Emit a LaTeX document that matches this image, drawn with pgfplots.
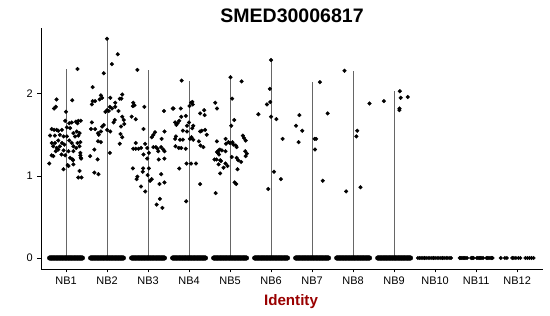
\documentclass[border=0pt]{standalone}
\usepackage{fontspec}
\setmainfont{Liberation Sans}
\usepackage{pgfplots}
\usepackage{pgfplotstable}
\pgfplotsset{compat=1.18}
\definecolor{labred}{RGB}{153,0,0}

% jitter offsets of the zero-valued cells (groups NB1-NB9)
\pgfplotstableread{
dx y
-0.40 0
-0.38 0
-0.36 0
-0.34 0
-0.32 0
-0.30 0
-0.28 0
-0.26 0
-0.24 0
-0.22 0
-0.20 0
-0.18 0
-0.16 0
-0.14 0
-0.12 0
-0.10 0
-0.08 0
-0.06 0
-0.04 0
-0.02 0
0.00 0
0.02 0
0.04 0
0.06 0
0.08 0
0.10 0
0.12 0
0.14 0
0.16 0
0.18 0
0.20 0
0.22 0
0.24 0
0.26 0
0.28 0
0.30 0
0.32 0
0.34 0
0.36 0
0.38 0
0.40 0
}\zerooff

\pgfplotstableread{
x y
9.58 0
9.62 0
9.66 0
9.70 0
9.74 0
9.78 0
9.83 0
9.87 0
9.92 0
9.96 0
10.00 0
10.05 0
10.09 0
10.14 0
10.18 0
10.22 0
10.27 0
10.31 0
10.36 0
10.39 0
10.60 0
10.63 0
10.66 0
10.69 0
10.72 0
10.75 0
10.78 0
10.88 0
10.91 0
10.94 0
11.02 0
11.05 0
11.08 0
11.11 0
11.14 0
11.17 0
11.25 0
11.28 0
11.31 0
11.34 0
11.38 0
11.40 0
11.60 0
11.70 0
11.75 0
11.88 0
11.92 0
11.97 0
12.03 0
12.08 0
12.20 0
12.25 0
12.30 0
12.35 0
12.40 0
}\zerorest

\begin{document}
\begin{tikzpicture}
\begin{axis}[
  at={(0,0)}, anchor=south west,
  scale only axis, width=502bp, height=241bp,
  xmin=0.39, xmax=12.63, ymin=-0.134, ymax=2.80,
  axis x line=bottom, axis y line=left,
  axis line style={black, line width=0.8bp, -},
  xtick={1,2,3,4,5,6,7,8,9,10,11,12},
  xticklabels={NB1,NB2,NB3,NB4,NB5,NB6,NB7,NB8,NB9,NB10,NB11,NB12},
  ytick={0,1,2},
  tick align=outside, major tick length=3.5bp,
  tick style={black, line width=0.7bp},
  tick label style={font=\fontsize{11}{11}\selectfont, text=black},
  xticklabel style={yshift=-1.3bp},
  yticklabel style={xshift=-1.2bp},
  /pgf/number format/assume math mode=true,
  clip=false,
]
% violin outlines (collapsed to lines)
\addplot[ycomb, draw=black!60, line width=0.7bp, mark=none] coordinates {
(1,2.30)(2,2.67)(3,2.29)(4,2.16)(5,2.20)(6,2.41)(7,2.14)(8,2.28)(9,2.03)};
% zero cells
\pgfplotsinvokeforeach{1,...,9}{
\addplot[only marks, mark=*, mark size=2.3bp, black] table[x expr=\thisrow{dx}+#1, y=y] {\zerooff};
}
\addplot[only marks, mark=*, mark size=1.75bp, black] table[x=x, y=y] {\zerorest};
% expressing cells
\addplot[only marks, mark=*, mark size=1.85bp, black] coordinates {
(1.28,2.30)(0.77,1.93)(0.75,1.84)(0.71,1.82)(1.15,1.92)(1.00,1.78)
(0.98,1.67)(1.08,1.64)(1.14,1.65)(1.24,1.66)(1.30,1.67)(1.36,1.67)(1.28,1.64)
(0.65,1.57)(0.71,1.56)(0.77,1.56)(0.81,1.55)(0.90,1.56)(1.02,1.59)(1.10,1.58)
(1.18,1.52)(1.26,1.54)(1.33,1.52)(1.30,1.49)(1.22,1.48)(0.61,1.49)(0.73,1.49)(0.85,1.50)(0.94,1.48)(1.02,1.48)
(0.65,1.40)(0.73,1.40)(0.81,1.43)(0.90,1.40)(0.96,1.38)(1.08,1.43)(1.14,1.40)(1.28,1.40)(1.35,1.41)
(0.69,1.36)(0.77,1.34)(0.85,1.36)(1.18,1.36)(1.25,1.34)(1.33,1.36)
(0.75,1.30)(0.81,1.32)(0.94,1.31)(1.06,1.30)(1.18,1.30)(1.35,1.28)
(0.89,1.26)(0.98,1.25)(0.65,1.25)(0.69,1.24)(1.10,1.22)(1.17,1.19)(1.35,1.25)(1.36,1.22)
(0.59,1.15)(0.94,1.08)(1.06,1.12)(1.18,1.14)(1.33,1.06)(1.30,0.98)(1.38,0.98)
(1.04,1.13)(1.16,1.20)(1.37,1.21)
(2.00,2.67)(2.26,2.48)(2.12,2.36)(1.92,2.25)(1.65,2.08)
(1.85,1.98)(1.82,1.93)(1.88,1.95)(1.65,1.91)(1.71,1.91)(1.63,1.87)
(2.37,1.99)(2.35,1.94)(2.31,1.94)(2.08,1.95)(2.20,1.89)(2.20,1.84)(2.12,1.82)(2.07,1.84)
(2.00,1.80)(2.04,1.79)(1.96,1.78)(2.28,1.79)(2.37,1.72)(2.19,1.68)(2.16,1.65)(1.63,1.65)
(1.61,1.57)(1.71,1.57)(1.92,1.62)(1.88,1.60)(2.00,1.56)(2.34,1.60)(2.33,1.51)(2.37,1.47)
(2.08,1.54)(1.78,1.52)(1.85,1.54)(1.69,1.32)(1.85,1.41)(1.77,1.20)(2.07,1.28)(1.69,1.04)(1.79,1.02)
(2.41,1.68)(2.42,1.63)(2.31,1.39)(1.80,1.50)(1.59,1.24)(1.78,1.42)
(2.74,2.29)(2.64,1.89)(2.67,1.86)(2.63,1.85)(2.91,1.84)(2.60,1.72)(2.70,1.69)(3.39,1.79)
(2.89,1.57)(3.17,1.53)(3.13,1.50)(3.09,1.47)(3.40,1.54)(3.33,1.45)(2.70,1.40)(2.93,1.39)
(2.64,1.33)(2.70,1.33)(2.77,1.33)(2.83,1.34)(2.98,1.34)(3.13,1.35)(3.19,1.35)(3.23,1.33)(3.32,1.35)(3.37,1.32)(3.40,1.30)
(3.02,1.28)(3.25,1.30)(2.89,1.26)(2.98,1.21)(3.40,1.21)(3.26,1.20)
(2.63,1.09)(2.88,1.09)(3.02,1.09)(2.87,1.05)(2.74,0.99)(2.72,0.96)(2.99,1.01)(3.09,0.96)(3.05,0.94)(3.32,1.02)
(3.28,0.90)(3.40,0.92)(2.83,0.87)(2.93,0.81)(3.29,0.72)(3.21,0.65)(3.35,0.61)
(3.82,2.16)(4.05,1.89)(4.09,1.87)(4.01,1.85)(3.80,1.82)(3.62,1.82)(4.27,1.76)(4.37,1.80)
(3.66,1.65)(3.72,1.64)(3.76,1.67)(3.69,1.62)(3.81,1.72)(3.92,1.73)(4.00,1.65)(4.10,1.61)(4.08,1.58)
(3.95,1.54)(3.85,1.55)(4.31,1.55)(4.39,1.56)(4.27,1.54)
(3.66,1.45)(3.78,1.44)(3.85,1.44)(4.06,1.47)(4.02,1.45)(4.10,1.44)(4.28,1.37)(3.67,1.36)(3.81,1.34)(3.92,1.33)(4.24,1.42)
(3.76,1.09)(3.94,1.15)(4.05,1.15)(4.17,1.15)(4.27,0.90)(3.93,0.69)
(3.60,1.82)(4.08,1.90)(4.38,1.74)(4.43,1.50)(4.35,1.35)(3.68,1.48)(3.75,1.34)(3.95,1.61)
(5.01,2.20)(5.28,2.15)(5.05,1.94)(4.64,1.89)(4.68,1.82)(5.10,1.68)(5.03,1.61)
(5.31,1.49)(5.34,1.46)(5.38,1.43)(4.68,1.42)(4.89,1.45)(4.96,1.41)(5.00,1.40)(5.06,1.41)(5.14,1.37)(5.16,1.35)
(4.72,1.31)(4.75,1.32)(4.68,1.29)(4.80,1.31)(4.89,1.30)(5.37,1.30)(5.41,1.27)(5.38,1.24)
(4.62,1.20)(4.76,1.19)(4.78,1.18)(5.04,1.23)(5.16,1.22)(5.20,1.19)(4.89,1.15)(4.94,1.12)(4.84,1.10)(5.27,1.17)(5.18,1.08)
(4.76,1.03)(5.11,0.92)(5.15,0.90)(4.65,0.79)
(4.70,1.28)(4.73,1.26)(4.67,1.20)(4.72,1.14)(4.90,1.39)(5.08,1.38)
(6.00,2.41)(5.97,2.06)(5.90,1.87)(5.98,1.90)(5.69,1.75)(6.00,1.72)(6.13,1.69)(6.28,1.45)(6.07,1.05)(6.24,0.96)(5.93,0.84)
(6.69,1.74)(6.61,1.61)(6.76,1.55)(6.67,1.41)(7.19,2.14)(7.38,1.76)(7.06,1.45)(7.10,1.45)(7.07,1.32)(7.26,0.94)
(7.79,2.28)(8.10,1.55)(8.08,1.48)(7.83,0.81)(8.18,0.86)(8.40,1.88)
(8.75,1.91)(9.14,2.03)(9.16,1.95)(9.33,1.96)(9.13,1.82)(9.13,1.80)
};
\end{axis}
\node[anchor=base, font=\bfseries\fontsize{19.6}{20}\selectfont] at (251bp,246.7bp) {SMED30006817};
\node[anchor=base, text=labred, font=\bfseries\fontsize{15.2}{16}\selectfont] at (250bp,-36.3bp) {Identity};
\pgfresetboundingbox
\path (-41bp,-47bp) rectangle (509bp,269bp);
\end{tikzpicture}
\end{document}
